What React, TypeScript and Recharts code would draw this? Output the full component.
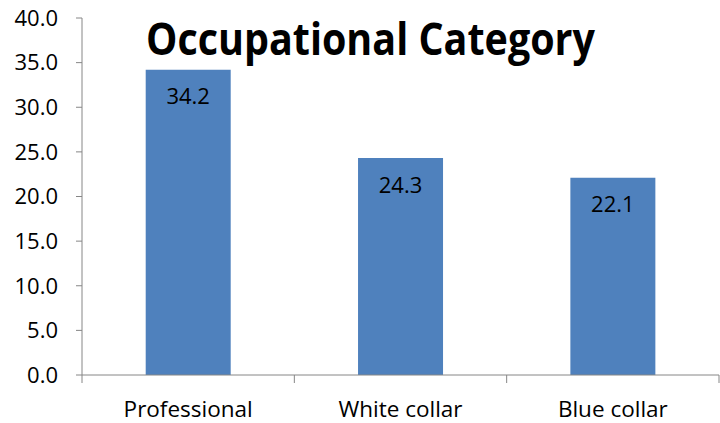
import { BarChart, Bar, XAxis, YAxis, LabelList } from "recharts";

const categories = ["Professional", "White collar", "Blue collar"];
const shares = [34.2, 24.3, 22.1];
const yTicks = [0, 5, 10, 15, 20, 25, 30, 35, 40];
const title = "Occupational Category";

const W = 720;
const H = 423;
const M = { top: 18, right: 1, left: 0, bottom: 0 };
const Y_W = 82;
const X_H = 48;
const AXIS = "#868686";
const FONT = "'Open Sans', sans-serif";

const halfBand = (W - M.left - M.right - Y_W) / categories.length / 2;

const data = categories.map((name, i) => ({ name, value: shares[i] }));

function CatTick(props: any) {
  const { x, y, payload, index } = props;
  const axisY = y - 10;
  return (
    <g>
      <line x1={x - halfBand} x2={x - halfBand} y1={axisY} y2={axisY + 8} stroke={AXIS} />
      {index === categories.length - 1 && (
        <line x1={x + halfBand} x2={x + halfBand} y1={axisY} y2={axisY + 8} stroke={AXIS} />
      )}
      <text x={x} y={axisY + 42} textAnchor="middle" fontSize={22.5} fontFamily={FONT} fill="#000">
        {payload.value}
      </text>
    </g>
  );
}

export default function App() {
  return (
    <div style={{ position: "absolute", left: 0, top: 0, width: W, height: H, background: "#fff" }}>
      <BarChart width={W} height={H} data={data} margin={M} barCategoryGap="30%">
        <XAxis
          dataKey="name"
          height={X_H}
          axisLine={{ stroke: AXIS }}
          tickLine={false}
          tickSize={8}
          tickMargin={2}
          tick={<CatTick />}
          interval={0}
        />
        <YAxis
          width={Y_W}
          domain={[0, 40]}
          ticks={yTicks}
          interval={0}
          tickFormatter={(v: number) => v.toFixed(1)}
          axisLine={{ stroke: AXIS }}
          tickLine={{ stroke: AXIS }}
          tickSize={6}
          tickMargin={18}
          tick={{ fill: "#000", fontSize: 22, fontFamily: FONT }}
        />
        <Bar dataKey="value" fill="#4F81BD" isAnimationActive={false}>
          <LabelList
            dataKey="value"
            position="insideTop"
            offset={19}
            formatter={(v: any) => Number(v).toFixed(1)}
            style={{ fill: "#000", fontSize: 22, fontFamily: FONT }}
          />
        </Bar>
      </BarChart>
      <svg width={W} height={H} style={{ position: "absolute", left: 0, top: 0, pointerEvents: "none" }}>
        <text
          x={146}
          y={55}
          fontSize={45}
          fontWeight="bold"
          fontFamily={FONT}
          fill="#000"
          textLength={449}
          lengthAdjust="spacingAndGlyphs"
        >
          {title}
        </text>
      </svg>
    </div>
  );
}
